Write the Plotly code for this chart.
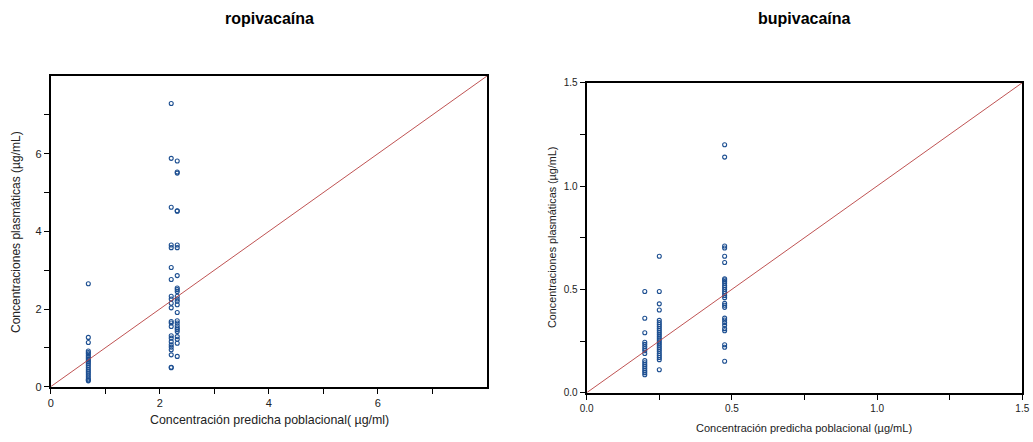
import plotly.graph_objects as go

# ---------------- data ----------------
ropi_x_low = 0.69
ropi_y_low = [2.65, 1.27, 1.14, 0.92, 0.88, 0.85, 0.80, 0.76, 0.72, 0.68, 0.64, 0.60,
              0.55, 0.50, 0.45, 0.40, 0.35, 0.30, 0.25, 0.20, 0.17, 0.15]
ropi_x_mid = 2.21
ropi_y_mid = [7.29, 5.88, 4.62, 3.65, 3.58, 3.07, 2.76, 2.33, 2.26, 2.15, 2.03, 1.68,
              1.64, 1.55, 1.31, 1.25, 1.16, 1.08, 1.02, 0.95, 0.82, 0.50, 0.49]
ropi_x_high = 2.32
ropi_y_high = [5.81, 5.53, 5.50, 4.53, 4.52, 3.65, 3.58, 2.86, 2.54, 2.50, 2.45, 2.33,
               2.26, 2.20, 2.11, 1.91, 1.70, 1.64, 1.57, 1.51, 1.47, 1.42, 1.29, 1.22,
               1.12, 0.78]

bupi_x_a = 0.20
bupi_y_a = [0.49, 0.36, 0.29, 0.244, 0.234, 0.223, 0.213, 0.203, 0.19, 0.155, 0.145,
            0.135, 0.126, 0.116, 0.106, 0.097, 0.087]
bupi_x_b = 0.25
bupi_y_b = [0.66, 0.49, 0.43, 0.40, 0.35, 0.34, 0.33, 0.32, 0.31, 0.30, 0.29, 0.28,
            0.27, 0.26, 0.25, 0.24, 0.23, 0.22, 0.21, 0.20, 0.19, 0.18, 0.17, 0.16, 0.111]
bupi_x_c = 0.475
bupi_y_c = [1.20, 1.14, 0.71, 0.70, 0.66, 0.63, 0.551, 0.545, 0.538, 0.529, 0.519,
            0.51, 0.50, 0.49, 0.48, 0.47, 0.46, 0.432, 0.423, 0.413, 0.361, 0.352,
            0.339, 0.326, 0.31, 0.30, 0.232, 0.22, 0.152]

left_range = [0, 8]
right_range = [0, 1.5]
left_tickvals = [0, 1, 2, 3, 4, 5, 6, 7]
left_ticktext = ["0", "", "2", "", "4", "", "6", ""]
right_tickvals = [0, 0.25, 0.5, 0.75, 1.0, 1.25, 1.5]
right_ticktext = ["0.0", "", "0.5", "", "1.0", "", "1.5"]

titles = ["ropivacaína", "bupivacaína"]
left_xtitle = "Concentración predicha poblacional( µg/ml)"
left_ytitle = "Concentraciones plasmáticas (µg/mL)"
right_xtitle = "Concentración predicha poblacional (µg/mL)"
right_ytitle = "Concentraciones plasmáticas (µg/mL)"

# ---------------- style ----------------
W, H = 1033, 442
FONT = "Liberation Sans, Arial, sans-serif"
MARK = "#1d4f91"
LINE = "#b8403f"

def px_x(p):
    return p / W

def px_y(p):
    return 1 - p / H

fig = go.Figure()

marker = dict(symbol="circle-open", size=4, color=MARK, line=dict(width=1.1, color=MARK))

def add_points(xv, ys, xa, ya):
    fig.add_trace(go.Scatter(x=[xv] * len(ys), y=ys, mode="markers", marker=marker,
                             xaxis=xa, yaxis=ya, showlegend=False, hoverinfo="x+y",
                             cliponaxis=False))

add_points(ropi_x_low, ropi_y_low, "x", "y")
add_points(ropi_x_mid, ropi_y_mid, "x", "y")
add_points(ropi_x_high, ropi_y_high, "x", "y")
fig.add_trace(go.Scatter(x=left_range, y=left_range, mode="lines",
                         line=dict(color=LINE, width=0.9), xaxis="x", yaxis="y",
                         showlegend=False, hoverinfo="skip"))

add_points(bupi_x_a, bupi_y_a, "x2", "y2")
add_points(bupi_x_b, bupi_y_b, "x2", "y2")
add_points(bupi_x_c, bupi_y_c, "x2", "y2")
fig.add_trace(go.Scatter(x=right_range, y=right_range, mode="lines",
                         line=dict(color=LINE, width=0.9), xaxis="x2", yaxis="y2",
                         showlegend=False, hoverinfo="skip"))

ax_common = dict(showline=True, mirror=True, linecolor="black", linewidth=2,
                 ticks="outside", ticklen=5, tickwidth=1, tickcolor="black",
                 showgrid=False, zeroline=False, fixedrange=True, automargin=False)

fig.update_layout(
    width=W, height=H,
    margin=dict(l=0, r=0, t=0, b=0, pad=0, autoexpand=False),
    paper_bgcolor="white", plot_bgcolor="white",
    font=dict(family=FONT, color="#222222"),
    xaxis=dict(domain=[px_x(50.7), px_x(487)], range=left_range, tickmode="array",
               tickvals=left_tickvals, ticktext=left_ticktext, anchor="y",
               tickfont=dict(size=11), **ax_common),
    yaxis=dict(domain=[px_y(386.7), px_y(76)], range=left_range, tickmode="array",
               tickvals=left_tickvals, ticktext=left_ticktext, anchor="x",
               tickfont=dict(size=11), **ax_common),
    xaxis2=dict(domain=[px_x(586.7), px_x(1022.3)], range=right_range, tickmode="array",
                tickvals=right_tickvals, ticktext=right_ticktext, anchor="y2",
                tickfont=dict(size=10), **ax_common),
    yaxis2=dict(domain=[px_y(392.7), px_y(82.7)], range=right_range, tickmode="array",
                tickvals=right_tickvals, ticktext=right_ticktext, anchor="x2",
                tickfont=dict(size=10), **ax_common),
)

ann = []
ann.append(dict(text="<b>" + titles[0] + "</b>", x=px_x(269), y=px_y(18.5), xref="paper", yref="paper",
                showarrow=False, font=dict(size=16, color="black"), xanchor="center", yanchor="middle"))
ann.append(dict(text="<b>" + titles[1] + "</b>", x=px_x(804), y=px_y(18.5), xref="paper", yref="paper",
                showarrow=False, font=dict(size=16, color="black"), xanchor="center", yanchor="middle"))
ann.append(dict(text=left_xtitle, x=px_x(269), y=px_y(420), xref="paper", yref="paper",
                showarrow=False, font=dict(size=12.4), xanchor="center", yanchor="middle"))
ann.append(dict(text=left_ytitle, x=px_x(16), y=px_y(232), xref="paper", yref="paper",
                showarrow=False, font=dict(size=12), textangle=-90, xanchor="center", yanchor="middle"))
ann.append(dict(text=right_xtitle, x=px_x(804), y=px_y(428), xref="paper", yref="paper",
                showarrow=False, font=dict(size=11), xanchor="center", yanchor="middle"))
ann.append(dict(text=right_ytitle, x=px_x(552), y=px_y(238), xref="paper", yref="paper",
                showarrow=False, font=dict(size=10.8), textangle=-90, xanchor="center", yanchor="middle"))
fig.update_layout(annotations=ann)

fig.write_html("out.html")
